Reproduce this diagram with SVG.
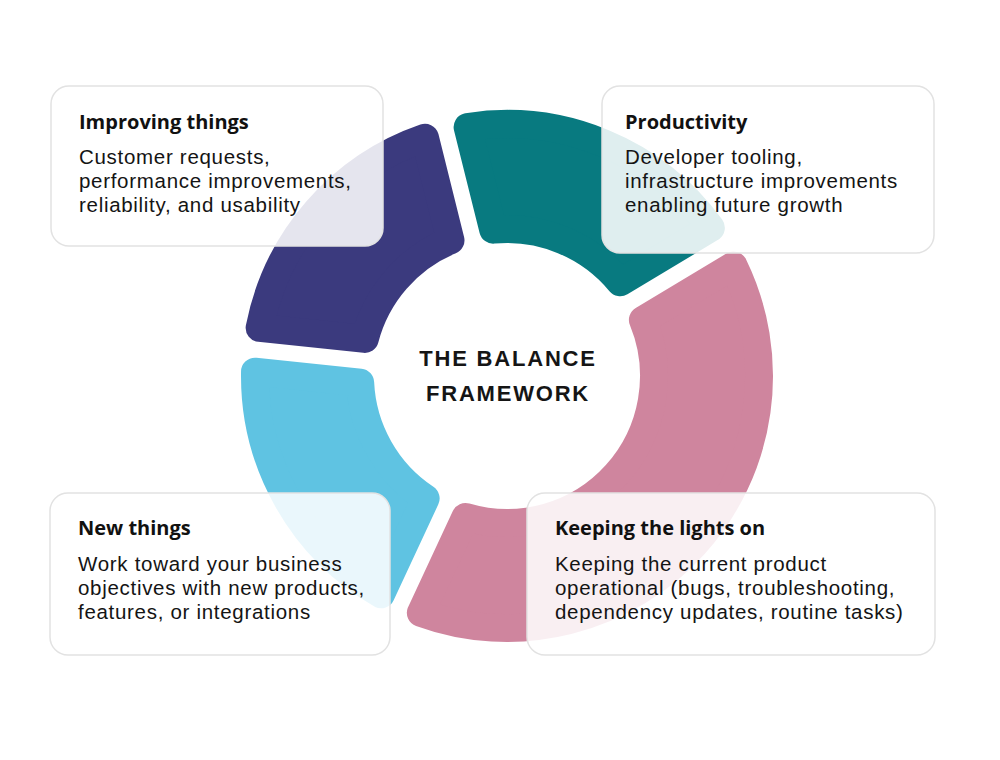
<svg xmlns="http://www.w3.org/2000/svg" width="1000" height="760" viewBox="0 0 1000 760">
  <style>
    .seg { stroke-width: 28; stroke-linejoin: round; }
    .box { fill: #ffffff; fill-opacity: 0.87; stroke: #e2e2e2; stroke-width: 1.5; }
    .title { font-family: "Open Sans", "Liberation Sans", sans-serif; font-weight: 700; font-size: 20px; fill: #111111; }
    .body { font-family: "Liberation Sans", Arial, sans-serif; font-weight: 400; font-size: 20.5px; letter-spacing: 0.7px; fill: #141414; }
    .center { font-family: "Liberation Sans", Arial, sans-serif; font-weight: 700; font-size: 22px; fill: #151515; letter-spacing: 1.8px; text-anchor: middle; }
  </style>
  <rect width="1000" height="760" fill="#ffffff"/>
  <g id="donut">
    <path id="seg-keeping" class="seg" fill="#cf859e" stroke="#cf859e" d="M 733.51 265.56 A 252 252 0 0 1 420.85 612.82 L 465.52 517.02 A 147 147 0 0 0 642.91 320.0 Z"/>
    <path id="seg-new" class="seg" fill="#5fc3e2" stroke="#5fc3e2" d="M 380.97 594.22 A 252 252 0 0 1 255.04 371.64 L 360.16 382.69 A 147 147 0 0 0 425.64 498.42 Z"/>
    <path id="seg-improving" class="seg" fill="#3b3a7e" stroke="#3b3a7e" d="M 259.64 327.88 A 252 252 0 0 1 424.92 137.74 L 450.49 240.30 A 147 147 0 0 0 364.76 338.93 Z"/>
    <path id="seg-productivity" class="seg" fill="#087a80" stroke="#087a80" d="M 467.62 127.10 A 252 252 0 0 1 710.85 227.84 L 620.25 282.28 A 147 147 0 0 0 493.19 229.66 Z"/>
  </g>
  <g id="center-label">
    <text class="center" x="508" y="366">THE BALANCE</text>
    <text class="center" x="508" y="401">FRAMEWORK</text>
  </g>
  <g id="node-improving">
    <rect class="box" x="51" y="86" width="332" height="160" rx="18"/>
    <text class="title" x="79" y="129">Improving things</text>
    <text class="body" x="79" y="164">Customer requests,</text>
    <text class="body" x="79" y="188">performance improvements,</text>
    <text class="body" x="79" y="212">reliability, and usability</text>
  </g>
  <g id="node-productivity">
    <rect class="box" x="602" y="86" width="332" height="167" rx="18"/>
    <text class="title" x="625" y="129">Productivity</text>
    <text class="body" x="625" y="164">Developer tooling,</text>
    <text class="body" x="625" y="188">infrastructure improvements</text>
    <text class="body" x="625" y="212">enabling future growth</text>
  </g>
  <g id="node-new">
    <rect class="box" x="50" y="493" width="340" height="162" rx="18"/>
    <text class="title" x="78" y="535">New things</text>
    <text class="body" x="78" y="571">Work toward your business</text>
    <text class="body" x="78" y="595">objectives with new products,</text>
    <text class="body" x="78" y="619">features, or integrations</text>
  </g>
  <g id="node-keeping">
    <rect class="box" x="527" y="493" width="408" height="162" rx="18"/>
    <text class="title" x="555" y="535">Keeping the lights on</text>
    <text class="body" x="555" y="571">Keeping the current product</text>
    <text class="body" x="555" y="595">operational (bugs, troubleshooting,</text>
    <text class="body" x="555" y="619">dependency updates, routine tasks)</text>
  </g>
  <g id="connectors"></g>
</svg>
